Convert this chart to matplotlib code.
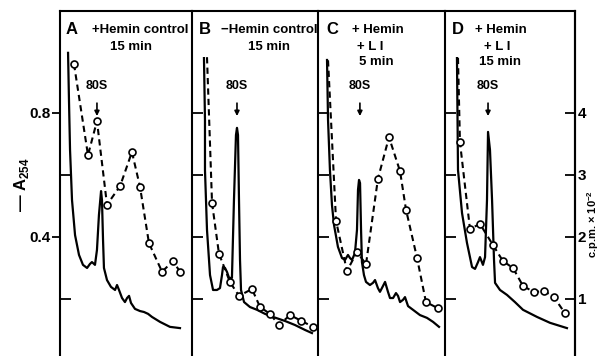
import numpy as np
import matplotlib.pyplot as plt

# x = position across each panel (0..1), A254 on left axis, c.p.m. x 10^-2 on right axis
a_abs_x = [0.061, 0.068, 0.076, 0.091, 0.114, 0.144, 0.174, 0.205, 0.227, 0.242, 0.265, 0.280,
           0.295, 0.311, 0.318, 0.326, 0.333, 0.356, 0.386, 0.417, 0.432, 0.447, 0.470, 0.492,
           0.508, 0.523, 0.538, 0.568, 0.606, 0.636, 0.667, 0.697, 0.758, 0.833, 0.909]
a_abs_y = [0.994, 0.842, 0.681, 0.519, 0.406, 0.342, 0.310, 0.300, 0.313, 0.319, 0.310, 0.358,
           0.471, 0.548, 0.519, 0.390, 0.300, 0.261, 0.239, 0.229, 0.245, 0.229, 0.203, 0.190,
           0.203, 0.210, 0.187, 0.168, 0.161, 0.158, 0.152, 0.142, 0.126, 0.110, 0.106]
a_cpm_x = [0.106, 0.212, 0.280, 0.356, 0.455, 0.545, 0.606, 0.674, 0.773, 0.856, 0.909]
a_cpm_y = [4.79, 3.32, 3.87, 2.52, 2.82, 3.37, 2.81, 1.90, 1.44, 1.61, 1.44]

b_abs_x = [0.095, 0.103, 0.103, 0.119, 0.143, 0.167, 0.198, 0.222, 0.238, 0.246, 0.262, 0.278,
           0.294, 0.317, 0.333, 0.349, 0.357, 0.365, 0.373, 0.381, 0.389, 0.413, 0.460, 0.516,
           0.579, 0.643, 0.738, 0.817, 0.897, 0.952]
b_abs_y = [0.977, 0.777, 0.616, 0.423, 0.277, 0.229, 0.229, 0.235, 0.277, 0.303, 0.300, 0.287,
           0.268, 0.268, 0.519, 0.729, 0.752, 0.729, 0.519, 0.326, 0.229, 0.190, 0.174, 0.165,
           0.152, 0.142, 0.129, 0.116, 0.100, 0.090]
b_cpm_x = [0.119, 0.159, 0.214, 0.302, 0.373, 0.476, 0.540, 0.619, 0.690, 0.778, 0.865, 0.960]
b_cpm_y = [4.90, 2.55, 1.73, 1.27, 1.05, 1.16, 0.87, 0.76, 0.58, 0.74, 0.65, 0.55]

c_abs_x = [0.071, 0.079, 0.094, 0.110, 0.126, 0.157, 0.189, 0.213, 0.236, 0.252, 0.268, 0.291,
           0.307, 0.315, 0.323, 0.331, 0.339, 0.346, 0.362, 0.378, 0.409, 0.433, 0.449, 0.472,
           0.488, 0.512, 0.528, 0.551, 0.567, 0.591, 0.614, 0.630, 0.646, 0.669, 0.685, 0.709,
           0.748, 0.803, 0.858, 0.906, 0.953]
c_abs_y = [0.971, 0.777, 0.616, 0.503, 0.439, 0.368, 0.332, 0.326, 0.342, 0.332, 0.326, 0.348,
           0.423, 0.552, 0.584, 0.574, 0.423, 0.319, 0.277, 0.255, 0.245, 0.252, 0.261, 0.235,
           0.223, 0.242, 0.255, 0.223, 0.203, 0.203, 0.219, 0.210, 0.190, 0.197, 0.206, 0.177,
           0.165, 0.148, 0.139, 0.126, 0.110]
c_cpm_x = [0.079, 0.142, 0.228, 0.307, 0.378, 0.472, 0.559, 0.646, 0.693, 0.780, 0.850, 0.945]
c_cpm_y = [4.85, 2.26, 1.45, 1.76, 1.56, 2.94, 3.61, 3.06, 2.44, 1.66, 0.95, 0.85]

d_abs_x = [0.092, 0.100, 0.131, 0.169, 0.208, 0.231, 0.254, 0.269, 0.292, 0.308, 0.323, 0.331,
           0.346, 0.362, 0.377, 0.385, 0.423, 0.477, 0.538, 0.600, 0.708, 0.808, 0.938]
d_abs_y = [0.977, 0.616, 0.477, 0.381, 0.303, 0.297, 0.319, 0.335, 0.310, 0.335, 0.519, 0.739,
           0.681, 0.519, 0.326, 0.252, 0.229, 0.213, 0.190, 0.165, 0.142, 0.123, 0.106]
d_cpm_x = [0.100, 0.115, 0.192, 0.269, 0.369, 0.446, 0.523, 0.600, 0.685, 0.762, 0.838, 0.923]
d_cpm_y = [4.89, 3.53, 2.13, 2.21, 1.87, 1.61, 1.50, 1.21, 1.11, 1.13, 1.03, 0.77]

letters = ['A', 'B', 'C', 'D']
titles = [['+Hemin control', '15 min'], ['\u2212Hemin control', '15 min'],
          ['+ Hemin', '+ L I', '5 min'], ['+ Hemin', '+ L I', '15 min']]
peak_80s = [0.28, 0.357, 0.33, 0.331]

abs_x = [a_abs_x, b_abs_x, c_abs_x, d_abs_x]
abs_y = [a_abs_y, b_abs_y, c_abs_y, d_abs_y]
cpm_x = [a_cpm_x, b_cpm_x, c_cpm_x, d_cpm_x]
cpm_y = [a_cpm_y, b_cpm_y, c_cpm_y, d_cpm_y]

plt.rcParams['font.family'] = ['Liberation Sans', 'DejaVu Sans']
plt.rcParams['font.weight'] = 'bold'
plt.rcParams['mathtext.fontset'] = 'custom'
plt.rcParams['mathtext.rm'] = 'Liberation Sans:bold'
plt.rcParams['mathtext.bf'] = 'Liberation Sans:bold'

fig, axes = plt.subplots(1, 4, figsize=(6.03, 3.56), dpi=100,
                         gridspec_kw={'width_ratios': [132, 126, 127, 130]})
fig.subplots_adjust(left=60 / 603, right=575 / 603, top=1 - 11 / 356, bottom=0, wspace=0)

ylo, yhi = 0.016, 1.129
title_x = [[0.61, 0.54], [0.615, 0.61], [0.47, 0.41, 0.46], [0.43, 0.40, 0.42]]
title_y = [0.945, 0.896, 0.852]
letter_x = [0.09, 0.10, 0.11, 0.10]

for i, ax in enumerate(axes):
    ax.plot(abs_x[i], abs_y[i], color='black', lw=1.6)
    ax.set_xlim(0, 1)
    ax.set_ylim(ylo, yhi)
    ax.set_xticks([])
    ax.spines['bottom'].set_visible(False)
    for s in ['left', 'right', 'top']:
        ax.spines[s].set_linewidth(1.5)
    ax.spines['right'].set_visible(i == 3)

    if i == 0:
        ax.set_yticks([0.4, 0.8])
        ax.set_yticklabels(['0.4', '0.8'], fontsize=11, fontweight='bold')
        ax.tick_params(axis='y', direction='out', length=6, width=1.3, pad=1)
        ax.set_yticks([0.2, 0.6], minor=True)
        ax.tick_params(axis='y', which='minor', direction='in', length=8, width=1.3)
    else:
        ax.set_yticks([0.2, 0.4, 0.6, 0.8])
        ax.set_yticklabels([])
        ax.tick_params(axis='y', direction='in', length=8, width=1.3)

    tw = ax.twinx()
    tw.set_ylim(5 * ylo, 5 * yhi)
    tw.plot(cpm_x[i], cpm_y[i], color='black', lw=1.5, ls=(0, (3, 2)),
            marker='o', ms=5, mfc='white', mec='black', mew=1.2,
            markevery=slice(0 if i == 0 else 1, None))
    for s in tw.spines.values():
        s.set_visible(False)
    if i == 3:
        tw.spines['right'].set_visible(True)
        tw.spines['right'].set_linewidth(1.5)
        tw.set_yticks([1, 2, 3, 4])
        tw.set_yticklabels(['1', '2', '3', '4'], fontsize=11, fontweight='bold')
        tw.tick_params(axis='y', direction='in', length=7, width=1.3, pad=2)
    else:
        tw.set_yticks([])

    ax.text(letter_x[i], title_y[0], letters[i], transform=ax.transAxes,
            ha='center', va='center', fontsize=12, fontweight='bold')
    for j, line in enumerate(titles[i]):
        ax.text(title_x[i][j], title_y[j], line, transform=ax.transAxes,
                ha='center', va='center', fontsize=9.5, fontweight='bold')

    ax.annotate('80S', xy=(peak_80s[i], 0.79), xytext=(peak_80s[i], 0.887),
                ha='center', va='center', fontsize=9, fontweight='bold',
                arrowprops=dict(arrowstyle='-|>', color='black', lw=1.2,
                                mutation_scale=7, shrinkA=6, shrinkB=0))

fig.text(0.035, 0.48, '\u2014 A$_{254}$', rotation=90, ha='center', va='center',
         fontsize=12, fontweight='bold')
fig.text(0.984, 0.37, 'c.p.m. \u00d7 10$^{-2}$', rotation=90, ha='center', va='center',
         fontsize=8, fontweight='bold')

plt.savefig('out.png', dpi=100)
